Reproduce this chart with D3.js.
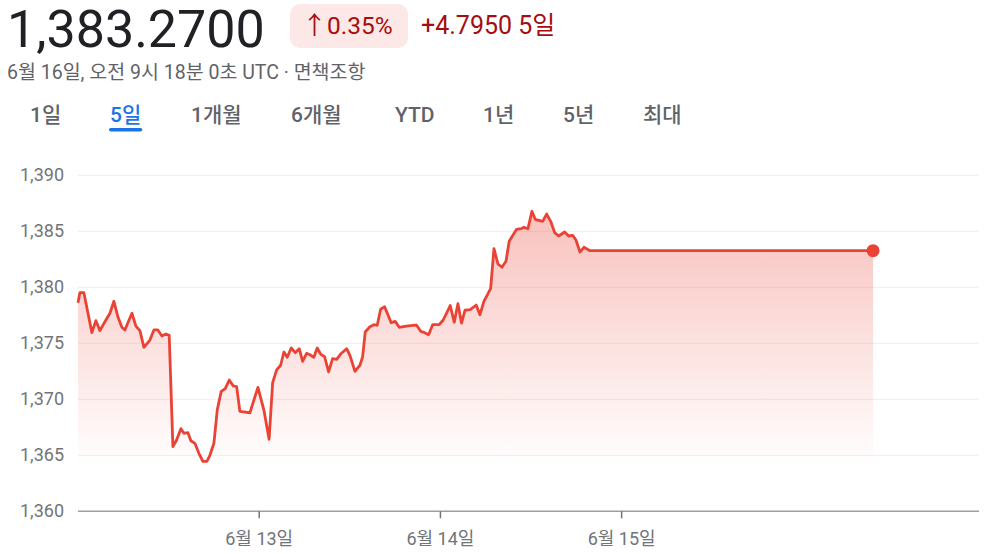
<!DOCTYPE html>
<html><head><meta charset="utf-8">
<script src="https://cdn.jsdelivr.net/npm/d3@7"></script>
<style>
html,body{margin:0;padding:0;background:#fff;}
svg{display:block;font-family:Roboto,"Noto Sans CJK KR",sans-serif;}
</style></head>
<body><svg id="c" width="992" height="554"></svg>
<script>
// ---- data ----
const startDate = "2024-06-12T00:00:00Z";
const hoursFromStart = [0,0.25,0.78,1.84,2.37,2.90,3.70,4.23,4.75,5.28,5.81,6.21,7.14,7.67,8.20,8.73,9.53,10.05,10.58,11.11,11.64,12.08,
 12.57,13.06,13.63,14.03,14.56,14.95,15.48,16.01,16.54,17.07,17.47,18.0,18.44,18.97,19.50,20.03,20.56,21.01,21.44,22.77,23.83,24.62,25.31,
 25.78,26.31,26.84,27.27,27.71,28.24,28.77,29.30,29.75,30.28,30.72,31.24,31.68,32.13,32.66,33.19,33.72,34.25,34.78,35.58,36.01,36.68,37.34,37.70,
 38.04,38.66,39.19,39.63,40.08,40.61,41.48,42.01,42.54,43.52,44.40,44.85,45.38,45.91,46.44,46.97,47.84,48.37,49.30,49.83,50.32,50.79,51.25,51.95,
 52.74,53.23,53.76,54.65,55.09,55.62,56.15,56.68,57.11,58.09,58.70,59.06,59.59,60.12,60.56,61.54,62.07,62.60,63.13,63.66,64.45,64.98,65.51,65.95,
 66.48,67.01,67.80,68.33,105.3];
const rates = [1378.63,1379.52,1379.52,1375.95,1377.02,1376.13,1377.08,1377.68,1378.75,1377.38,1376.43,1376.19,1377.68,1376.54,1376.13,1374.64,1375.29,1376.19,1376.19,1375.65,1375.83,1375.71,
 1365.77,1366.37,1367.38,1366.96,1367.02,1366.30,1366.07,1365.18,1364.46,1364.46,1365.0,1366.07,1369.04,1370.71,1370.95,1371.72,1371.19,1371.13,1368.93,1368.80,1371.07,1369.04,1366.43,
 1371.48,1372.62,1373.04,1374.22,1373.75,1374.58,1374.16,1374.52,1373.39,1374.11,1373.98,1373.75,1374.58,1374.04,1373.80,1372.44,1373.63,1373.57,1374.04,1374.52,1373.93,1372.50,1373.04,1373.80,
 1376.01,1376.48,1376.66,1376.61,1378.04,1378.27,1376.84,1376.96,1376.43,1376.54,1376.61,1376.61,1376.07,1375.95,1375.77,1376.66,1376.66,1377.08,1378.37,1376.88,1378.54,1376.81,1377.95,1378.01,
 1378.42,1377.55,1378.75,1379.88,1383.45,1382.08,1381.79,1382.32,1384.11,1385.18,1385.23,1385.36,1385.23,1386.79,1386.07,1385.89,1386.54,1385.89,1384.88,1384.58,1384.94,1384.58,1384.64,1384.22,
 1383.15,1383.57,1383.27,1383.27,1383.27];
const yTicks = [1360,1365,1370,1375,1380,1385,1390];
const xTickDates = ["2024-06-13T00:00:00Z","2024-06-14T00:00:00Z","2024-06-15T00:00:00Z"];
const xTickLabels = ["6월 13일","6월 14일","6월 15일"];
const tabs = ["1일","5일","1개월","6개월","YTD","1년","5년","최대"];
const activeTab = "5일";
const priceText = "1,383.2700";
const pctText = "0.35%";
const changeText = "+4.7950 5일";
const subText = "6월 16일, 오전 9시 18분 0초 UTC · 면책조항";

// ---- build ----
const t0 = new Date(startDate).getTime();
const data = hoursFromStart.map((h,i)=>({t:new Date(t0+h*3600000), v:rates[i]}));

const svg = d3.select("#c");
const x = d3.scaleUtc().domain([new Date(t0), new Date(t0+119.33*3600000)]).range([78,979]);
const y = d3.scaleLinear().domain([1360,1390]).range([511.3,175.3]);

// header
svg.append("text").attr("x",7).attr("y",47).attr("font-size",52).attr("fill","#202124").text(priceText);
svg.append("rect").attr("x",290).attr("y",4).attr("width",118).attr("height",44).attr("rx",10).attr("fill","#fce8e6");
svg.append("text").attr("x",302).attr("y",34).attr("font-size",25).attr("fill","#a50e0e").text("↑");
svg.append("text").attr("x",327).attr("y",34).attr("font-size",24.5).attr("fill","#a50e0e").text(pctText);
svg.append("text").attr("x",421).attr("y",34).attr("font-size",25).attr("fill","#a50e0e").text(changeText);
svg.append("text").attr("x",7).attr("y",79).attr("font-size",19.5).attr("fill","#5f6368").text(subText);

// tabs
const tabX = [30,110,191,291,395,483,563,643];
const tg = svg.append("g");
tabs.forEach((t,i)=>{
  const el = tg.append("text").attr("x",tabX[i]).attr("y",122).attr("font-size",21).attr("font-weight",500)
    .attr("fill", t===activeTab ? "#1a73e8" : "#5f6368").text(t);
  if(t===activeTab){
    const w = el.node().getComputedTextLength();
    tg.append("rect").attr("x",tabX[i]-1).attr("y",128).attr("width",w+2).attr("height",3.5).attr("rx",1.75).attr("fill","#1a73e8");
  }
});

// grid
const grid = svg.append("g");
yTicks.filter(v=>v!==1360).forEach(v=>{
  grid.append("line").attr("x1",78).attr("x2",979).attr("y1",y(v)).attr("y2",y(v)).attr("stroke","#eeeeee").attr("stroke-width",1);
});
yTicks.forEach(v=>{
  svg.append("text").attr("x",64).attr("y",y(v)+6).attr("text-anchor","end").attr("font-size",18).attr("fill","#70757a")
    .text(d3.format(",")(v));
});

// gradient
const defs = svg.append("defs");
const grad = defs.append("linearGradient").attr("id","g").attr("gradientUnits","userSpaceOnUse")
  .attr("x1",0).attr("x2",0).attr("y1",y(1387)).attr("y2",y(1364));
grad.append("stop").attr("offset",0).attr("stop-color","#ea4335").attr("stop-opacity",0.33);
grad.append("stop").attr("offset",1).attr("stop-color","#ea4335").attr("stop-opacity",0.0);

svg.append("path").datum(data)
  .attr("d", d3.area().x(d=>x(d.t)).y0(y(1360)).y1(d=>y(d.v)))
  .attr("fill","url(#g)");
svg.append("path").datum(data)
  .attr("d", d3.line().x(d=>x(d.t)).y(d=>y(d.v)))
  .attr("fill","none").attr("stroke","#ea4335").attr("stroke-width",2.8).attr("stroke-linejoin","round");
const last = data[data.length-1];
svg.append("circle").attr("cx",x(last.t)).attr("cy",y(last.v)).attr("r",6.5).attr("fill","#ea4335");

// x axis
svg.append("line").attr("x1",78).attr("x2",979).attr("y1",y(1360)).attr("y2",y(1360)).attr("stroke","#9aa0a6").attr("stroke-width",1.5);
xTickDates.forEach((d,i)=>{
  const px = x(new Date(d));
  svg.append("line").attr("x1",px).attr("x2",px).attr("y1",y(1360)).attr("y2",y(1360)+7).attr("stroke","#70757a").attr("stroke-width",1.5);
  svg.append("text").attr("x",px).attr("y",545).attr("text-anchor","middle").attr("font-size",18).attr("fill","#70757a").text(xTickLabels[i]);
});
</script></body></html>
